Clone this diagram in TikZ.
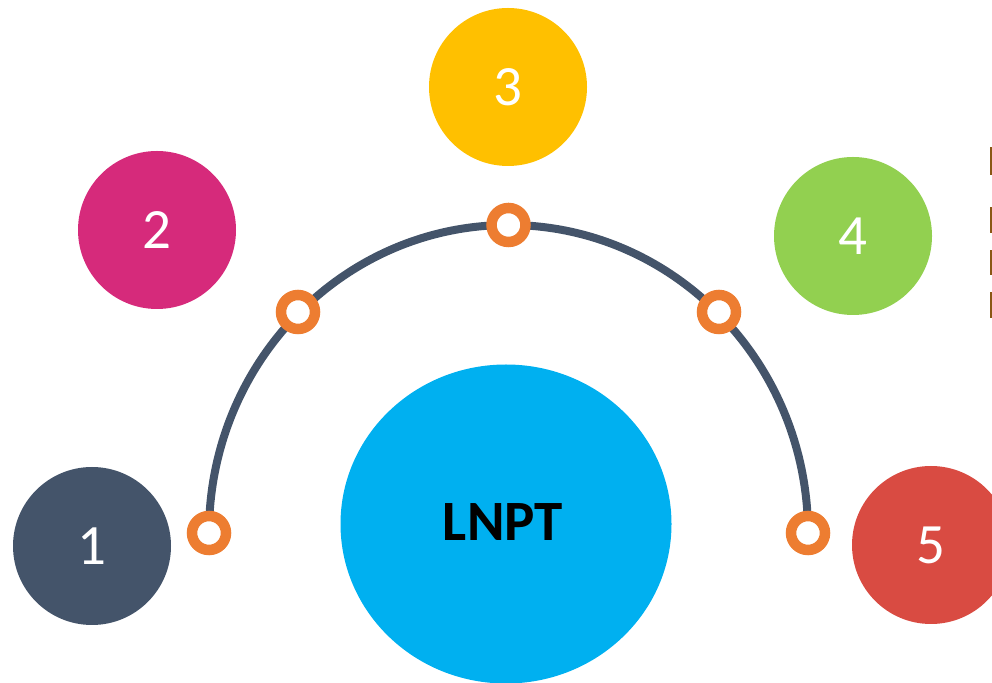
\documentclass[tikz,border=0pt]{standalone}
\usepackage{fontspec}
\setmainfont{Carlito}
\usepackage{tikz}
\usetikzlibrary{shapes,positioning}
\definecolor{slate}{HTML}{44546A}
\definecolor{berry}{HTML}{D62A7B}
\definecolor{amber}{HTML}{FFC000}
\definecolor{lime}{HTML}{92D050}
\definecolor{brick}{HTML}{D94B42}
\definecolor{sky}{HTML}{00B0F0}
\definecolor{tangerine}{HTML}{ED7D31}
\definecolor{bullet}{HTML}{8A5714}
\tikzstyle{ball} = [circle, draw=none, minimum size=158pt, inner sep=0pt,
    text=white, font=\fontsize{57}{57}\selectfont]
\tikzstyle{ring} = [circle, draw=tangerine, line width=10.5pt, fill=white,
    minimum size=34pt, inner sep=0pt]

\begin{document}
\begin{tikzpicture}[x=1pt, y=1pt]
  \useasboundingbox (0,0) rectangle (992,682);
  \clip (0,0) rectangle (992,682);
  \node [ball, fill=slate] (c1) at (92,136) {1};
  \node [ball, fill=berry] (c2) at (157,452) {2};
  \node [ball, fill=amber] (c3) at (508,595) {3};
  \node [ball, fill=lime] (c4) at (853,446) {4};
  \node [ball, fill=brick] (c5) at (931,137) {5};
  \node [ellipse, fill=sky, minimum width=331pt, minimum height=319pt,
    inner sep=0pt] (lnpt) at (506,158) {};
  \node [font=\fontsize{57}{57}\selectfont\bfseries] (lnpttext) at (503,160) {LNPT};
  \coordinate (arcstart) at (209,149);
  \draw [slate, line width=8pt] (arcstart) arc [start angle=180, end angle=0,
    x radius=299.5, y radius=308];
  \node [ring] (r1) at (arcstart) {};
  \node [ring] (r2) at (298,370) {};
  \node [ring] (r3) at (508.5,457) {};
  \node [ring] (r4) at (719,370) {};
  \node [ring] (r5) at (808,149) {};
  % cut-off marks at the right edge
  \foreach \ya/\yb in {507/535, 449/475, 407/432, 364/390}
    \fill [bullet] (990,\ya) rectangle (992,\yb);
\end{tikzpicture}
\end{document}
